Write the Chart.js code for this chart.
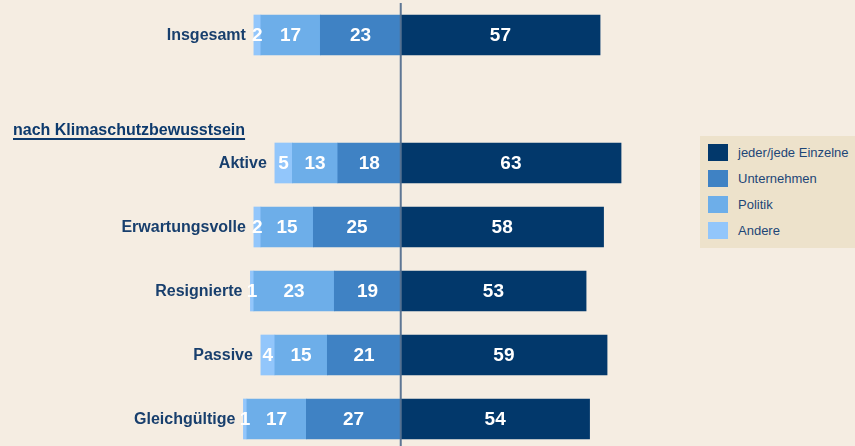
<!DOCTYPE html>
<html>
<head>
<meta charset="utf-8">
<script src="https://cdn.jsdelivr.net/npm/chart.js@4"></script>
<style>
  body { margin: 0; background: #f5ede2; overflow: hidden; width: 855px; height: 446px; font-family: "Liberation Sans", Arial, sans-serif; }
  #wrap { position: absolute; left: 0; top: 0; width: 855px; height: 451px; }
  #legend { position: absolute; left: 700px; top: 136px; width: 160px; height: 112px; background: #ede2cb; }
  .item { position: absolute; left: 8px; height: 17px; }
  .sw { position: absolute; left: 0; top: 0; width: 20px; height: 17px; }
  .lbl { position: absolute; left: 30px; top: 0; line-height: 17px; font-size: 13px; color: #1d4677; white-space: nowrap; }
</style>
</head>
<body>
<div id="wrap"><canvas id="chart" width="855" height="451"></canvas></div>
<div id="legend"></div>
<script>
// Kategorien und Werte (Prozent)
const categories = ['Insgesamt', '', 'Aktive', 'Erwartungsvolle', 'Resignierte', 'Passive', 'Gleichgültige'];
const einzelne = [57, null, 63, 58, 53, 59, 54];
const unternehmen = [23, null, 18, 25, 19, 21, 27];
const politik = [17, null, 13, 15, 23, 15, 17];
const andere = [2, null, 5, 2, 1, 4, 1];
const groupTitle = 'nach Klimaschutzbewusstsein';

const colors = {
    einzelne: '#02386b',
    unternehmen: '#3f82c4',
    politik: '#6daee9',
    andere: '#92c6fb'
};

const neg = arr => arr.map(v => v === null ? null : -v);

// Legende
const legendItems = [
    ['jeder/jede Einzelne', colors.einzelne],
    ['Unternehmen', colors.unternehmen],
    ['Politik', colors.politik],
    ['Andere', colors.andere]
];
const legendDiv = document.getElementById('legend');
legendItems.forEach((it, i) => {
    const d = document.createElement('div');
    d.className = 'item';
    d.style.top = (8 + i * 26) + 'px';
    d.innerHTML = '<div class="sw" style="background:' + it[1] + '"></div><div class="lbl">' + it[0] + '</div>';
    legendDiv.appendChild(d);
});

const FONT = '"Liberation Sans", Arial, sans-serif';

const labelPlugin = {
    id: 'labels',
    afterDatasetsDraw(chart) {
        const ctx = chart.ctx;
        const x0 = chart.scales.x.getPixelForValue(0);

        // Mittellinie
        ctx.save();
        ctx.strokeStyle = 'rgba(85,112,143,0.95)';
        ctx.lineWidth = 2;
        ctx.beginPath();
        ctx.moveTo(x0, 3);
        ctx.lineTo(x0, 446);
        ctx.stroke();

        // Werte in den Balken
        ctx.fillStyle = '#ffffff';
        ctx.font = 'bold 19px ' + FONT;
        ctx.textAlign = 'center';
        ctx.textBaseline = 'middle';
        chart.data.datasets.forEach((ds, di) => {
            const meta = chart.getDatasetMeta(di);
            meta.data.forEach((el, i) => {
                const v = ds.raw[i];
                if (v === null) return;
                ctx.fillText(String(v), (el.x + el.base) / 2, el.y + 1);
            });
        });

        // Kategorien links neben den Balken
        const leftMeta = chart.getDatasetMeta(2);
        ctx.fillStyle = '#183f6d';
        ctx.font = 'bold 16px ' + FONT;
        ctx.textAlign = 'right';
        leftMeta.data.forEach((el, i) => {
            if (!categories[i]) return;
            ctx.fillText(categories[i], el.x - 8, el.y + 1);
        });

        // Zwischenüberschrift
        const yTitle = (chart.scales.y.getPixelForValue(1) + chart.scales.y.getPixelForValue(2)) / 2;
        ctx.textAlign = 'left';
        ctx.fillStyle = '#0d3a6d';
        ctx.fillText(groupTitle, 13, yTitle);
        const w = ctx.measureText(groupTitle).width;
        ctx.strokeStyle = '#0d3a6d';
        ctx.lineWidth = 2;
        ctx.beginPath();
        ctx.moveTo(13, yTitle + 8);
        ctx.lineTo(13 + w, yTitle + 8);
        ctx.stroke();
        ctx.restore();
    }
};

const ctx = document.getElementById('chart').getContext('2d');
const myChart = new Chart(ctx, {
    type: 'bar',
    data: {
        labels: categories,
        datasets: [
            { label: 'Unternehmen', data: neg(unternehmen), raw: unternehmen, backgroundColor: colors.unternehmen },
            { label: 'Politik', data: neg(politik), raw: politik, backgroundColor: colors.politik },
            { label: 'Andere', data: neg(andere), raw: andere, backgroundColor: colors.andere },
            { label: 'jeder/jede Einzelne', data: einzelne, raw: einzelne, backgroundColor: colors.einzelne }
        ]
    },
    options: {
        indexAxis: 'y',
        responsive: false,
        animation: false,
        devicePixelRatio: 1,
        layout: { padding: { top: 3, bottom: 0, left: 0, right: 0 } },
        datasets: {
            bar: { barThickness: 40, borderWidth: 0, borderSkipped: false }
        },
        scales: {
            x: { stacked: true, display: false, min: -114.6, max: 129.9 },
            y: { stacked: true, display: false }
        },
        plugins: {
            legend: { display: false },
            tooltip: { enabled: false }
        }
    },
    plugins: [labelPlugin]
});
</script>
</body>
</html>
